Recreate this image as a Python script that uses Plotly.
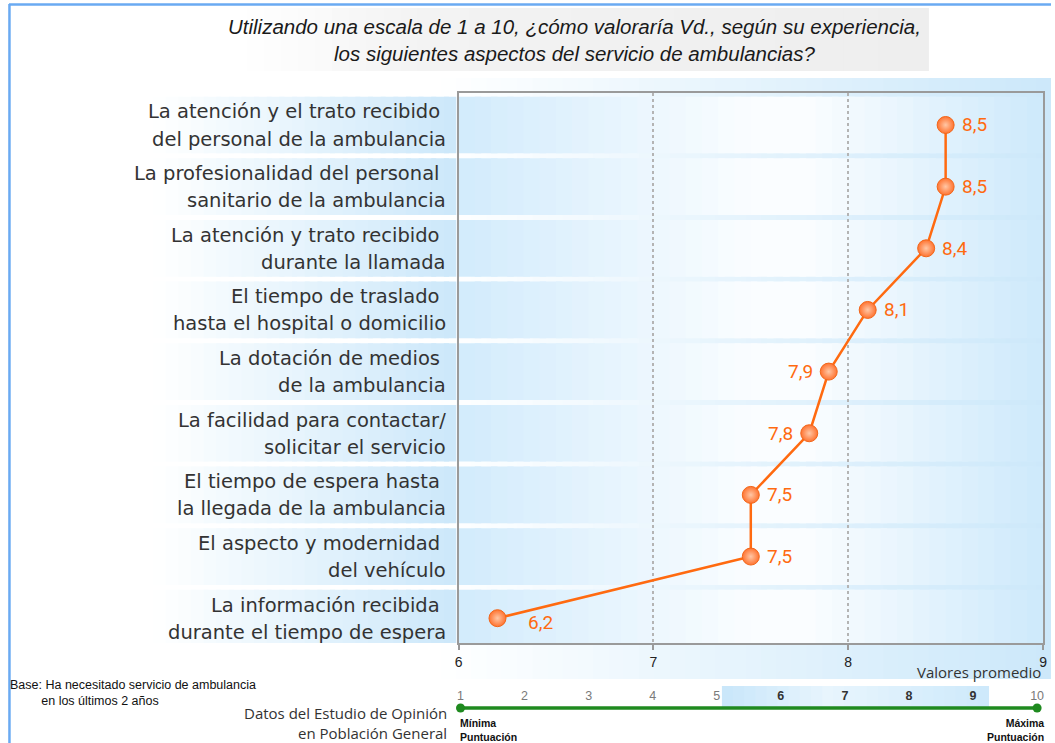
import plotly.graph_objects as go

W, H = 1055, 743

# ---------------- data ----------------
label_line1 = [
    "La atención y el trato recibido ",
    "La profesionalidad del personal ",
    "La atención y trato recibido ",
    "El tiempo de traslado ",
    "La dotación de medios ",
    "La facilidad para contactar/",
    "El tiempo de espera hasta ",
    "El aspecto y modernidad ",
    "La información recibida ",
]
label_line2 = [
    "del personal de la ambulancia",
    "sanitario de la ambulancia",
    "durante la llamada",
    "hasta el hospital o domicilio",
    "de la ambulancia",
    "solicitar el servicio",
    "la llegada de la ambulancia",
    "del vehículo",
    "durante el tiempo de espera",
]
values = [8.5, 8.5, 8.4, 8.1, 7.9, 7.8, 7.5, 7.5, 6.2]
value_label_side = ["right", "right", "right", "right", "left", "left", "right", "right", "below"]
x_ticks = [6, 7, 8, 9]
scale_points = [1, 2, 3, 4, 5, 6, 7, 8, 9, 10]
scale_highlight = [6, 7, 8, 9]

title_text = ("Utilizando una escala de 1 a 10, ¿cómo valoraría Vd., según su experiencia,"
              "<br>los siguientes aspectos del servicio de ambulancias?")

categories = [(a.strip() + " " + b) for a, b in zip(label_line1, label_line2)]

# ---------------- helpers ----------------
def px_x(p):
    return p / W

def px_y(p):
    return 1 - p / H

def lerp_color(stops, t):
    for (t0, c0), (t1, c1) in zip(stops[:-1], stops[1:]):
        if t <= t1:
            f = 0 if t1 == t0 else (t - t0) / (t1 - t0)
            f = max(0, min(1, f))
            c = [round(c0[k] + (c1[k] - c0[k]) * f) for k in range(3)]
            return "rgb(%d,%d,%d)" % tuple(c)
    c = stops[-1][1]
    return "rgb(%d,%d,%d)" % tuple(c)

def gradient_strips(x0, x1, y0, y1, stops, n, xref, yref, layer="below"):
    out = []
    for k in range(n):
        a = x0 + (x1 - x0) * k / n
        b = x0 + (x1 - x0) * (k + 1) / n
        if k < n - 1:
            b += (x1 - x0) / n * 0.4
        out.append(dict(type="rect", xref=xref, yref=yref, x0=a, x1=b, y0=y0, y1=y1,
                        fillcolor=lerp_color(stops, (k + 0.5) / n),
                        line=dict(width=0), layer=layer))
    return out

shapes = []

# title grey box
shapes += gradient_strips(px_x(245), px_x(932), px_y(8), px_y(71),
                          [(0, (255, 255, 255)), (0.25, (243, 243, 243)), (1, (238, 238, 238))],
                          40, "paper", "paper")

# large light-blue background behind the chart
shapes += gradient_strips(px_x(440), 1.0, px_y(78), px_y(679),
                          [(0, (255, 255, 255)), (0.05, (252, 254, 255)), (1, (204, 232, 250))],
                          40, "paper", "paper")

# row bands (inside plot and behind labels)
n_rows = len(categories)
half = 0.46
for i in range(n_rows):
    shapes += gradient_strips(6, 9, i - half, i + half,
                              [(0, (210, 235, 252)), (0.5, (250, 253, 255)), (0.6, (250, 253, 255)),
                               (1, (205, 233, 251))],
                              36, "x", "y")
    shapes += gradient_strips(0, 1, i - half, i + half,
                              [(0, (255, 255, 255)), (1, (204, 232, 250))],
                              24, "x3", "y")

# highlighted band on the 1-10 scale
shapes += gradient_strips(5.08, 9.25, 0.571, 0.905,
                          [(0, (200, 230, 250)), (0.4, (232, 245, 253)), (1, (205, 233, 251))],
                          24, "x2", "y2")

# blue frame lines of the slide
shapes.append(dict(type="line", xref="paper", yref="paper", x0=px_x(5), x1=1, y0=px_y(4.5), y1=px_y(4.5),
                   line=dict(color="#6aaaf2", width=2.5), layer="above"))
shapes.append(dict(type="line", xref="paper", yref="paper", x0=px_x(5.5), x1=px_x(5.5), y0=px_y(4), y1=0,
                   line=dict(color="#6aaaf2", width=2.5), layer="above"))

# ---------------- figure ----------------
fig = go.Figure()

# main series
fig.add_trace(go.Scatter(
    x=values, y=categories, mode="lines+markers",
    line=dict(color="#ff6a10", width=2.5),
    marker=dict(size=17, color="#ff7330",
                gradient=dict(type="radial", color="#ffc7a6"),
                line=dict(color="#f2661a", width=1)),
    hoverinfo="x+y", showlegend=False, cliponaxis=False,
))

# 1-10 scale line
fig.add_trace(go.Scatter(
    x=[scale_points[0], scale_points[-1]], y=[0.556, 0.556], xaxis="x2", yaxis="y2",
    mode="lines+markers", line=dict(color="#1f8a1f", width=3.5),
    marker=dict(size=9, color="#1f8a1f"), showlegend=False, cliponaxis=False, hoverinfo="skip",
))
plain = [p for p in scale_points if p not in scale_highlight]
fig.add_trace(go.Scatter(
    x=plain, y=[0.73] * len(plain), xaxis="x2", yaxis="y2", mode="text",
    text=[str(p) for p in plain],
    textfont=dict(family="Liberation Sans, Arial, sans-serif", size=12.5, color="#7a7a7a"),
    showlegend=False, cliponaxis=False, hoverinfo="skip",
))
fig.add_trace(go.Scatter(
    x=scale_highlight, y=[0.73] * len(scale_highlight), xaxis="x2", yaxis="y2", mode="text",
    text=["<b>%d</b>" % p for p in scale_highlight],
    textfont=dict(family="Liberation Sans, Arial, sans-serif", size=12.5, color="#333333"),
    showlegend=False, cliponaxis=False, hoverinfo="skip",
))

annotations = []

# category labels (two lines, right aligned)
lab_font = dict(family="DejaVu Sans, sans-serif", size=19.5, color="#333333")
for cat, l1, l2 in zip(categories, label_line1, label_line2):
    annotations.append(dict(xref="paper", yref="y", x=px_x(447), y=cat, xanchor="right", yanchor="middle",
                            text=l1.replace(" ", "\u00a0") if l1.endswith(" ") else l1,
                            showarrow=False, font=lab_font, yshift=13))
    annotations.append(dict(xref="paper", yref="y", x=px_x(447), y=cat, xanchor="right", yanchor="middle",
                            text=l2, showarrow=False, font=lab_font, yshift=-14))

# value labels
val_font = dict(family="Roboto, sans-serif", size=19, color="#ff6a10")
for v, cat, side in zip(values, categories, value_label_side):
    txt = ("%.1f" % v).replace(".", ",")
    if side == "right":
        a = dict(xanchor="left", xshift=14, yshift=0)
    elif side == "left":
        a = dict(xanchor="right", xshift=-14, yshift=0)
    else:
        a = dict(xanchor="left", xshift=29, yshift=-4)
    annotations.append(dict(xref="x", yref="y", x=v, y=cat, text=txt, showarrow=False,
                            font=val_font, yanchor="middle", **a))

# title
annotations.append(dict(xref="paper", yref="paper", x=px_x(575), y=px_y(40), text="<i>" + title_text + "</i>",
                        showarrow=False, xanchor="center", yanchor="middle", align="center",
                        font=dict(family="Liberation Sans, Arial, sans-serif", size=20.5, color="#1a1a1a")))

# axis caption
annotations.append(dict(xref="paper", yref="paper", x=px_x(1047), y=px_y(672), text="Valores promedio",
                        showarrow=False, xanchor="right", yanchor="middle",
                        font=dict(family="Open Sans, sans-serif", size=15, color="#333333")))

# footnotes
annotations.append(dict(xref="paper", yref="paper", x=px_x(4), y=px_y(693), align="left",
                        text="Base: Ha necesitado servicio de ambulancia<br>         en los últimos 2 años",
                        showarrow=False, xanchor="left", yanchor="middle",
                        font=dict(family="Liberation Sans, Arial, sans-serif", size=12.5, color="#111111")))
annotations.append(dict(xref="paper", yref="paper", x=px_x(448), y=px_y(723), align="right",
                        text="Datos del Estudio de Opinión<br>en Población General",
                        showarrow=False, xanchor="right", yanchor="middle",
                        font=dict(family="Open Sans, sans-serif", size=15, color="#333333")))

small_bold = dict(family="Liberation Sans, Arial, sans-serif", size=10.5, color="#111111")
annotations.append(dict(xref="x2", yref="y2", x=scale_points[0], y=0.2, text="<b>Mínima<br>Puntuación</b>",
                        showarrow=False, xanchor="left", yanchor="middle", align="left", xshift=-3,
                        font=small_bold))
annotations.append(dict(xref="x2", yref="y2", x=scale_points[-1], y=0.2, text="<b>Máxima<br>Puntuación</b>",
                        showarrow=False, xanchor="right", yanchor="middle", align="right", xshift=9,
                        font=small_bold))

# y range so that rows land at the right pixel rows
y_top_px, y_bot_px = 93, 643
row0_px, step_px = 125, 61.65
y_range = [(y_bot_px - row0_px) / step_px, (y_top_px - row0_px) / step_px]

fig.update_layout(
    width=W, height=H, margin=dict(l=0, r=0, t=0, b=0),
    paper_bgcolor="white", plot_bgcolor="rgba(0,0,0,0)",
    showlegend=False,
    xaxis=dict(domain=[px_x(458), px_x(1047)], range=[6, 9], tickvals=x_ticks,
               showgrid=True, gridcolor="#b4b4b4", griddash="dot", gridwidth=1.5,
               showline=True, mirror=True, linecolor="#9a9a9a", linewidth=1.5,
               ticks="outside", ticklen=5, tickcolor="#9a9a9a", tickwidth=1.5,
               tickfont=dict(family="Liberation Sans, Arial, sans-serif", size=14, color="#222222"),
               zeroline=False, fixedrange=True),
    yaxis=dict(domain=[px_y(y_bot_px), px_y(y_top_px)], type="category", categoryorder="array",
               categoryarray=categories, range=y_range, showticklabels=False, ticks="",
               showgrid=False, zeroline=False, showline=True, mirror=True,
               linecolor="#9a9a9a", linewidth=1.5, fixedrange=True),
    xaxis2=dict(domain=[px_x(460), px_x(1041)], range=[1, 10], anchor="y2", visible=False, fixedrange=True),
    yaxis2=dict(domain=[0, px_y(680)], range=[0, 1], anchor="x2", visible=False, fixedrange=True),
    xaxis3=dict(domain=[px_x(150), px_x(456)], range=[0, 1], anchor="y", visible=False, fixedrange=True),
    shapes=shapes,
    annotations=annotations,
)

fig.write_html("out.html", config={"displayModeBar": False},
               post_script="document.body.style.margin='0';document.body.style.overflow='hidden';")
